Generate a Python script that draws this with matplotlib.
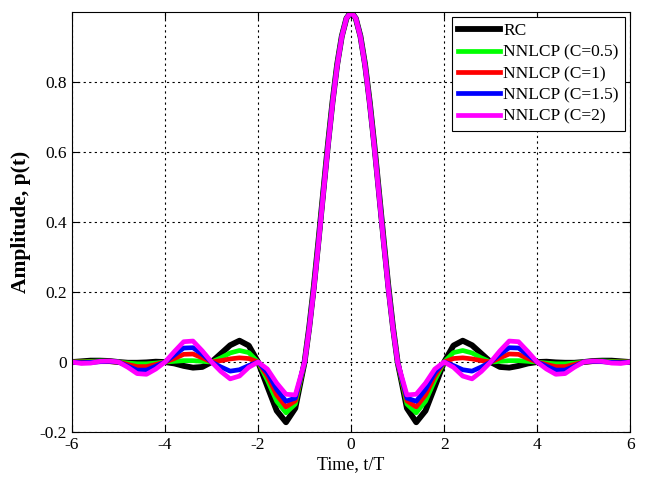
import numpy as np
import matplotlib
matplotlib.use('Agg')
import matplotlib.pyplot as plt

plt.rcParams['font.family'] = ['Liberation Serif', 'DejaVu Serif']

# time axis t/T: step 0.2 on the tails, 0.1 over the main lobe
t = np.concatenate([np.linspace(-6, -1, 26), np.linspace(-0.9, 0.9, 19),
                    np.linspace(1, 6, 26)])

rc = [0.000, 0.002, 0.004, 0.004, 0.003, 0.000, -0.002, -0.002, -0.001, 0.001,
      0.000, -0.004, -0.011, -0.016, -0.014, 0.000, 0.024, 0.048, 0.061, 0.047,
      0.000, -0.070, -0.139, -0.172, -0.132, 0.000,
      0.100, 0.217, 0.348, 0.484, 0.619, 0.743, 0.850, 0.931, 0.982,
      1.000,
      0.982, 0.931, 0.850, 0.743, 0.619, 0.484, 0.348, 0.217, 0.100,
      0.000, -0.132, -0.172, -0.139, -0.070, 0.000,
      0.047, 0.061, 0.048, 0.024, 0.000, -0.014, -0.016, -0.011, -0.004, 0.000,
      0.001, -0.001, -0.002, -0.002, 0.000, 0.003, 0.004, 0.004, 0.002, 0.000]

c05 = [0.000, 0.001, 0.002, 0.003, 0.002, 0.000, -0.003, -0.005, -0.005, -0.003,
       0.000, 0.002, 0.004, 0.004, 0.002, 0.000, 0.012, 0.026, 0.033, 0.027,
       0.000, -0.052, -0.112, -0.145, -0.120, 0.000,
       0.099, 0.216, 0.347, 0.484, 0.618, 0.743, 0.850, 0.931, 0.982,
       1.000,
       0.982, 0.931, 0.850, 0.743, 0.618, 0.484, 0.347, 0.216, 0.099,
       0.000, -0.120, -0.145, -0.112, -0.052, 0.000,
       0.027, 0.033, 0.026, 0.012, 0.000, 0.002, 0.004, 0.004, 0.002, 0.000,
       -0.003, -0.005, -0.005, -0.003, 0.000, 0.002, 0.003, 0.002, 0.001, 0.000]

c1 = [0.000, 0.000, 0.000, 0.001, 0.001, 0.000, -0.007, -0.013, -0.013, -0.007,
      0.000, 0.010, 0.022, 0.023, 0.012, 0.000, 0.004, 0.009, 0.012, 0.010,
      0.000, -0.040, -0.094, -0.128, -0.111, 0.000,
      0.098, 0.214, 0.345, 0.482, 0.616, 0.741, 0.848, 0.930, 0.982,
      1.000,
      0.982, 0.930, 0.848, 0.741, 0.616, 0.482, 0.345, 0.214, 0.098,
      0.000, -0.111, -0.128, -0.094, -0.040, 0.000,
      0.010, 0.012, 0.009, 0.004, 0.000, 0.012, 0.023, 0.022, 0.010, 0.000,
      -0.007, -0.013, -0.013, -0.007, 0.000, 0.001, 0.001, 0.000, 0.000, 0.000]

c15 = [0.000, -0.002, -0.001, 0.001, 0.002, 0.000, -0.012, -0.023, -0.023, -0.012,
       0.000, 0.020, 0.040, 0.041, 0.022, 0.000, -0.014, -0.026, -0.022, -0.010,
       0.000, -0.030, -0.078, -0.112, -0.103, 0.000,
       0.097, 0.212, 0.343, 0.480, 0.614, 0.740, 0.847, 0.930, 0.982,
       1.000,
       0.982, 0.930, 0.847, 0.740, 0.614, 0.480, 0.343, 0.212, 0.097,
       0.000, -0.103, -0.112, -0.078, -0.030, 0.000,
       -0.010, -0.022, -0.026, -0.014, 0.000, 0.022, 0.041, 0.040, 0.020, 0.000,
       -0.012, -0.023, -0.023, -0.012, 0.000, 0.002, 0.001, -0.001, -0.002, 0.000]

c2 = [0.000, -0.004, -0.003, 0.002, 0.003, 0.000, -0.015, -0.033, -0.035, -0.020,
      0.000, 0.030, 0.058, 0.060, 0.032, 0.000, -0.027, -0.048, -0.040, -0.015,
      0.000, -0.020, -0.060, -0.092, -0.094, 0.000,
      0.095, 0.209, 0.340, 0.477, 0.612, 0.738, 0.846, 0.929, 0.982,
      1.000,
      0.982, 0.929, 0.846, 0.738, 0.612, 0.477, 0.340, 0.209, 0.095,
      0.000, -0.094, -0.092, -0.060, -0.020, 0.000,
      -0.015, -0.040, -0.048, -0.027, 0.000, 0.032, 0.060, 0.058, 0.030, 0.000,
      -0.020, -0.035, -0.033, -0.015, 0.000, 0.003, 0.002, -0.003, -0.004, 0.000]

labels = ['RC', 'NNLCP (C=0.5)', 'NNLCP (C=1)', 'NNLCP (C=1.5)', 'NNLCP (C=2)']
xticks = [-6, -4, -2, 0, 2, 4, 6]
yticks = [-0.2, 0, 0.2, 0.4, 0.6, 0.8]

fig = plt.figure(figsize=(6.49, 4.79), dpi=100)
ax = fig.add_axes([0.111, 0.098, 0.860, 0.877])

ax.plot(t, rc, color='black', lw=4.2, label=labels[0])
ax.plot(t, c05, color='#00ff00', lw=3.4, label=labels[1])
ax.plot(t, c1, color='#ff0000', lw=3.4, label=labels[2])
ax.plot(t, c15, color='#0000ff', lw=3.4, label=labels[3])
ax.plot(t, c2, color='#ff00ff', lw=3.4, label=labels[4])

ax.set_xlim(-6, 6)
ax.set_ylim(-0.2, 1.0)
ax.set_xticks(xticks)
ax.set_xticklabels([str(v) for v in xticks])
ax.set_yticks(yticks)
ax.set_yticklabels(['-0.2', '0', '0.2', '0.4', '0.6', '0.8'])
ax.tick_params(direction='in', top=True, right=True, length=5, labelsize=12.5)
ax.grid(True, color='black', linestyle=(0, (2, 3)), linewidth=0.8)

ax.set_xlabel('Time, t/T', fontsize=13, labelpad=2)
ax.set_ylabel('Amplitude, p(t)', fontsize=15.5, fontweight='bold', labelpad=6)

leg = ax.legend(loc='upper right', fontsize=12.5, fancybox=False, framealpha=1,
                edgecolor='black', handlelength=2.4, handletextpad=0.2,
                labelspacing=0.3, borderpad=0.35, borderaxespad=0.3)
leg.get_frame().set_linewidth(0.8)

plt.savefig('out.png', dpi=100)
